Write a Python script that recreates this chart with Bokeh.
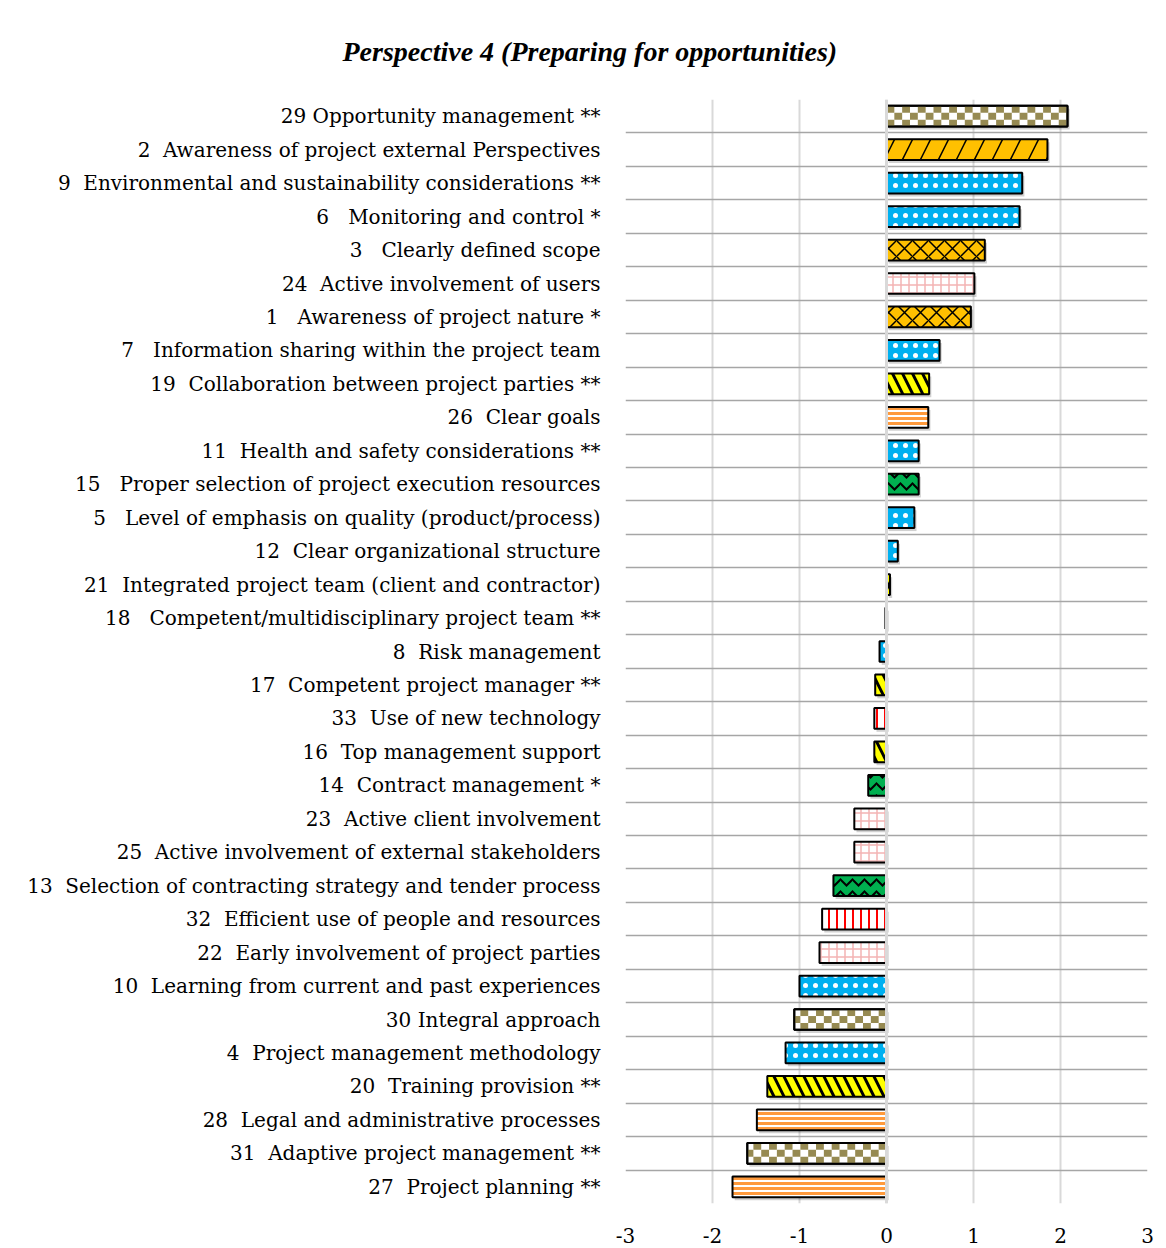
import math
from bokeh.plotting import figure
from bokeh.models import Range1d, FixedTicker, Grid, Span, ColumnDataSource
from bokeh.embed import file_html
from bokeh.resources import INLINE

# ---------------- data ----------------
NB = "\u00a0"
labels = [
    "29 Opportunity management **",
    "2" + NB + " Awareness of project external Perspectives",
    "9" + NB + " Environmental and sustainability considerations **",
    "6" + NB + NB + " Monitoring and control *",
    "3" + NB + NB + " Clearly defined scope",
    "24" + NB + " Active involvement of users",
    "1" + NB + NB + " Awareness of project nature *",
    "7" + NB + NB + " Information sharing within the project team",
    "19" + NB + " Collaboration between project parties **",
    "26" + NB + " Clear goals",
    "11" + NB + " Health and safety considerations **",
    "15" + NB + NB + " Proper selection of project execution resources",
    "5" + NB + NB + " Level of emphasis on quality (product/process)",
    "12" + NB + " Clear organizational structure",
    "21" + NB + " Integrated project team (client and contractor)",
    "18" + NB + NB + " Competent/multidisciplinary project team **",
    "8" + NB + " Risk management",
    "17" + NB + " Competent project manager **",
    "33" + NB + " Use of new technology",
    "16" + NB + " Top management support",
    "14" + NB + " Contract management *",
    "23" + NB + " Active client involvement",
    "25" + NB + " Active involvement of external stakeholders",
    "13" + NB + " Selection of contracting strategy and tender process",
    "32" + NB + " Efficient use of people and resources",
    "22" + NB + " Early involvement of project parties",
    "10" + NB + " Learning from current and past experiences",
    "30 Integral approach",
    "4" + NB + " Project management methodology",
    "20" + NB + " Training provision **",
    "28" + NB + " Legal and administrative processes",
    "31" + NB + " Adaptive project management **",
    "27" + NB + " Project planning **",
]

values = [
    2.08, 1.85, 1.56, 1.53, 1.13, 1.01, 0.97, 0.61, 0.49, 0.48,
    0.37, 0.37, 0.32, 0.13, 0.04, -0.01, -0.08, -0.13, -0.14, -0.14,
    -0.21, -0.37, -0.37, -0.61, -0.74, -0.77, -1.00, -1.06, -1.16, -1.37,
    -1.49, -1.60, -1.77,
]

groups = [
    "checker", "shingle", "dots", "dots", "trellis", "pinkgrid", "trellis", "dots", "yellowdiag", "orangestripe",
    "dots", "greenwave", "dots", "dots", "yellowdiag", "checker", "dots", "yellowdiag", "redvert", "yellowdiag",
    "greenwave", "pinkgrid", "pinkgrid", "greenwave", "redvert", "pinkgrid", "dots", "checker", "dots", "yellowdiag",
    "orangestripe", "checker", "orangestripe",
]

x_ticks = [-3, -2, -1, 0, 1, 2, 3]
title_text = "Perspective 4 (Preparing for opportunities)"

# ---------------- styles ----------------
OLIVE = "#968A52"
styles = {
    "checker": dict(fill_color="white"),
    "shingle": dict(fill_color="#FFC000", hatch_pattern="/", hatch_color="black",
                    hatch_scale=36, hatch_weight=1.5),
    "trellis": dict(fill_color="#FFC000", hatch_pattern="x", hatch_color="black",
                    hatch_scale=16, hatch_weight=1.5),
    "dots": dict(fill_color="#00B0F0", hatch_pattern=".", hatch_color="white",
                 hatch_scale=10, hatch_weight=1),
    "pinkgrid": dict(fill_color="white", hatch_pattern="+", hatch_color="#F4B4B4",
                     hatch_scale=8, hatch_weight=1.5),
    "yellowdiag": dict(fill_color="#FFFF00", hatch_pattern="\\", hatch_color="black",
                       hatch_scale=20, hatch_weight=3),
    "orangestripe": dict(fill_color="white", hatch_pattern="-", hatch_color="#FF9A3C",
                         hatch_scale=5, hatch_weight=3),
    "greenwave": dict(fill_color="#00B050", hatch_pattern="v", hatch_color="black",
                      hatch_scale=12, hatch_weight=2),
    "redvert": dict(fill_color="white", hatch_pattern="|", hatch_color="#FF0000",
                    hatch_scale=8, hatch_weight=2),
}

LABEL_FONT = "DejaVu Serif"
TITLE_FONT = "Liberation Serif"
BAR_H = 0.62
n = len(labels)
ypos = list(range(n))

p = figure(width=1166, height=1248, output_backend="svg", toolbar_location=None,
           x_range=Range1d(-3, 3), y_range=Range1d(n - 0.5, -0.5),
           min_border_left=625, min_border_right=19, min_border_top=99, min_border_bottom=45)

p.outline_line_color = None
p.background_fill_color = "white"
p.border_fill_color = "white"

# title
p.title.text = title_text
p.title.text_font = TITLE_FONT
p.title.text_font_style = "bold italic"
p.title.text_font_size = "28px"
p.title.text_color = "black"
p.title.align = "left"
p.title.offset = -283
p.title.standoff = 66

# x axis
p.xaxis.ticker = FixedTicker(ticks=x_ticks)
p.xaxis.major_label_overrides = {t: str(t) for t in x_ticks}
p.xaxis.major_label_text_font = LABEL_FONT
p.xaxis.major_label_text_font_size = "20px"
p.xaxis.major_label_text_color = "black"
p.xaxis.major_label_standoff = 18
p.xaxis.axis_line_color = None
p.xaxis.major_tick_line_color = None
p.xaxis.minor_tick_line_color = None

# y axis
p.yaxis.ticker = FixedTicker(ticks=ypos)
p.yaxis.major_label_overrides = {i: labels[i] for i in ypos}
p.yaxis.major_label_text_font = LABEL_FONT
p.yaxis.major_label_text_font_size = "20px"
p.yaxis.major_label_text_color = "black"
p.yaxis.major_label_standoff = 19
p.yaxis.axis_line_color = None
p.yaxis.major_tick_line_color = None
p.yaxis.minor_tick_line_color = None

# grids
p.xgrid.ticker = FixedTicker(ticks=x_ticks)
p.xgrid.grid_line_color = "#D9D9D9"
p.xgrid.grid_line_width = 2
p.ygrid.visible = False
sep_grid = Grid(dimension=1, ticker=FixedTicker(ticks=[i - 0.5 for i in range(n + 1)]),
                grid_line_color="#A6A6A6", grid_line_width=1.5)
p.add_layout(sep_grid, "center")

# soft drop shadow behind each bar
sh_src = ColumnDataSource(dict(y=[y + 0.09 for y in ypos],
                               l=[0.025 for _ in ypos],
                               r=[v + 0.025 for v in values]))
p.hbar(y="y", left="l", right="r", height=BAR_H, source=sh_src,
       fill_color="black", fill_alpha=0.18, line_color=None)

# bars
for g, st in styles.items():
    idx = [i for i in ypos if groups[i] == g]
    if not idx:
        continue
    src = ColumnDataSource(dict(y=[ypos[i] for i in idx], v=[values[i] for i in idx]))
    p.hbar(y="y", left=0, right="v", height=BAR_H, source=src,
           line_color="black", line_width=2, **st)

# checkerboard fill for the "checker" bars (cells derived from each bar's value)
CELL_W = 0.09
ROWS = 3
cl, cr, cb, ct = [], [], [], []
chk_idx = [i for i in ypos if groups[i] == "checker"]
for i in chk_idx:
    v = values[i]
    s = 1 if v >= 0 else -1
    k = math.ceil(abs(v) / CELL_W)
    rh = BAR_H / ROWS
    top = ypos[i] - BAR_H / 2
    for j in range(k):
        a = s * j * CELL_W
        b = s * min((j + 1) * CELL_W, abs(v))
        for r in range(ROWS):
            if (j + r) % 2 == 0:
                cl.append(min(a, b)); cr.append(max(a, b))
                ct.append(top + r * rh); cb.append(top + (r + 1) * rh)
p.quad(left=cl, right=cr, top=ct, bottom=cb, fill_color=OLIVE, line_color=None)
chk_src = ColumnDataSource(dict(y=[ypos[i] for i in chk_idx], v=[values[i] for i in chk_idx]))
p.hbar(y="y", left=0, right="v", height=BAR_H, source=chk_src,
       fill_color=None, line_color="black", line_width=2)

zero = Span(location=0, dimension="height", line_color="#D9D9D9", line_width=3, level="overlay")
p.add_layout(zero)

open("out.html", "w").write(file_html(p, INLINE))
